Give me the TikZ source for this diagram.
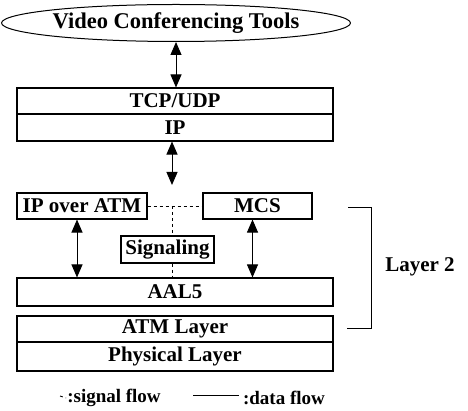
\documentclass[tikz,border=0pt]{standalone}
\usepackage{fontspec}
\setmainfont{Liberation Serif}
\usetikzlibrary{shapes.geometric,arrows.meta}

\tikzset{
  layer/.style={draw, line width=1.1pt, minimum width=316pt, inner sep=0pt,
    font=\bfseries\fontsize{21}{24}\selectfont},
  dflow/.style={line width=1pt, arrows={Triangle[length=13pt,width=11pt]-Triangle[length=13pt,width=11pt]}},
  sflow/.style={line width=0.9pt, dash pattern=on 3pt off 3pt},
  legend/.style={inner sep=0pt, font=\bfseries\fontsize{19}{22}\selectfont}
}

\begin{document}
\begin{tikzpicture}[x=1pt,y=-1pt]
    \useasboundingbox (0,0) rectangle (468,411);

    % application on top
    \node[ellipse, draw, line width=1pt, minimum width=333pt, minimum height=37pt, inner sep=0pt,
      font=\bfseries\fontsize{22.5}{25}\selectfont] (vct) at (176,23) {Video Conferencing Tools};

    \node[layer, minimum height=26pt] (tcp) at (175,101) {TCP/UDP};
    \node[layer, minimum height=27pt] (ip) at (175,127.5) {IP};

    % middle: IP over ATM, MCS, signaling
    \node[layer, minimum width=130pt, minimum height=26pt] (ipatm) at (82,206) {IP over ATM};
    \node[layer, minimum width=109pt, minimum height=26pt] (mcs) at (257.5,206) {MCS};
    \node[layer, minimum width=93pt, minimum height=27pt] (sig) at (167.5,249.5) {Signaling};

    % ATM stack
    \node[layer, minimum height=28pt] (aal5) at (175,292) {AAL5};
    \node[layer, minimum height=26pt] (atm) at (175,329) {ATM Layer};
    \node[layer, minimum height=29pt] (phy) at (175,356.5) {Physical Layer};

    \coordinate (ipend) at (172,185);
    \coordinate (mid) at (172,206);

    \draw[dflow] (vct.south) -- (vct.south |- tcp.north);
    \draw[dflow] (ip.south -| ipend) -- (ipend);
    \draw[dflow] ([xshift=-5pt]ipatm.south) -- ([xshift=-5pt]ipatm.south |- aal5.north);
    \draw[dflow] ([xshift=-5pt]mcs.south) -- ([xshift=-5pt]mcs.south |- aal5.north);

    \draw[sflow] (ipatm.east) -- (mcs.west);
    \draw[sflow] (mid) -- (mid |- sig.north);
    \draw[sflow] (sig.south -| mid) -- (mid |- aal5.north);

    % bracket for layer 2
    \coordinate (brtop) at (348,208);
    \coordinate (brbot) at (347,328);
    \draw[line width=1pt] (brtop) -- (371,208) |- (brbot);
    \node[inner sep=0pt, font=\bfseries\fontsize{21}{24}\selectfont] (l2) at (420,267) {Layer 2};

    % legend
    \node[legend] (sigleg) at (114,398) {:signal flow};
    \coordinate (sigline) at (60,396);
    \draw[sflow] (sigline) -- ([xshift=-1pt]sigleg.west);
    \node[legend] (datleg) at (284,398) {:data flow};
    \coordinate (datline) at (193,395);
    \draw[line width=1pt] (datline) -- ([xshift=-4pt]datline -| datleg.west);
\end{tikzpicture}
\end{document}
